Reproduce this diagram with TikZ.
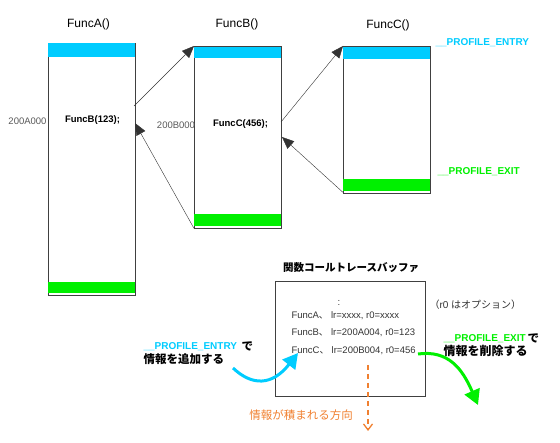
\documentclass[tikz,border=0pt]{standalone}
\usepackage{fontspec}
\usepackage{tikz}
\usetikzlibrary{arrows.meta}
\setmainfont{Liberation Sans}
\newfontfamily\jp{Noto Sans CJK JP}
\definecolor{entrycol}{RGB}{0,204,255}
\definecolor{exitcol}{RGB}{0,240,0}
\definecolor{dircol}{RGB}{240,128,48}

\tikzset{
  funcbox/.style={draw=black!75, anchor=north west, inner sep=0pt},
  call/.style={draw=black!80, -{Triangle[length=12pt,width=10pt]}},
  lbl/.style={font=\fontsize{9.5}{10}\selectfont, text=black!65},
  code/.style={font=\fontsize{9.5}{10}\selectfont\bfseries},
  title/.style={font=\fontsize{12}{12}\selectfont},
  buf/.style={font=\fontsize{9.5}{10}\selectfont, text=black!80, anchor=west},
  bigtip/.style={line width=3pt, -{Triangle[length=15pt,width=16pt]}},
  jpb/.style={font=\jp\fontsize{11.5}{12}\selectfont\bfseries, anchor=west}
}

\begin{document}
\begin{tikzpicture}[x=1pt,y=-1pt]
\useasboundingbox (0,0) rectangle (560,443);


\node[funcbox, minimum width=87pt, minimum height=252pt] (fa) at (48,43) {};
\node[funcbox, minimum width=87pt, minimum height=182pt] (fb) at (194,46) {};
\node[funcbox, minimum width=87pt, minimum height=147pt] (fc) at (343,46) {};

\fill[entrycol] ([shift={(0.4pt,-0.4pt)}]fa.north west) rectangle ([shift={(-0.4pt,-14pt)}]fa.north east);
\fill[entrycol] ([shift={(0.4pt,-1pt)}]fb.north west) rectangle ([shift={(-0.4pt,-12pt)}]fb.north east);
\fill[entrycol] ([shift={(0.4pt,-1pt)}]fc.north west) rectangle ([shift={(-0.4pt,-13pt)}]fc.north east);
\fill[exitcol] ([shift={(0.4pt,13pt)}]fa.south west) rectangle ([shift={(-0.4pt,2pt)}]fa.south east);
\fill[exitcol] ([shift={(0.4pt,14pt)}]fb.south west) rectangle ([shift={(-0.4pt,2pt)}]fb.south east);
\fill[exitcol] ([shift={(0.4pt,14pt)}]fc.south west) rectangle ([shift={(-0.4pt,2pt)}]fc.south east);


\node[title] (ta) at (88.5,24) {FuncA()};
\node[title] (tb) at (237,24) {FuncB()};
\node[title] (tc) at (388,25) {FuncC()};

\node[lbl] (adra) at (27.5,121) {200A000};
\node[code] (cb) at (92.5,120) {FuncB(123);};
\node[lbl] (adrb) at (176,125) {200B000};
\node[code] (cc) at (240.5,124) {FuncC(456);};

\node[font=\fontsize{10}{10}\selectfont\bfseries, text=entrycol, anchor=west] (pent) at (432,43) {\_\_PROFILE\_ENTRY};
\node[font=\fontsize{10}{10}\selectfont\bfseries, text=exitcol, anchor=west] (pext) at (434,172) {\_\_PROFILE\_EXIT};


% calls and returns
\coordinate (outa) at (134,106);
\coordinate (ina) at (135,123);
\coordinate (outb) at (281,122);
\coordinate (inb) at (282,137);
\draw[call] (outa) -- (fb.north west);
\draw[call] (fb.south west) -- (ina);
\draw[call] (outb) -- (fc.north west);
\draw[call] ([yshift=1pt]fc.south west) -- (inb);


% trace buffer
\node[draw=black!75, anchor=north west, minimum width=150pt, minimum height=115pt] (tbuf) at (275,281) {};
\node[font=\jp\fontsize{10.5}{11}\selectfont\bfseries] (tbt) at (351,268) {関数コールトレースバッファ};
\node[buf, anchor=center] (dots) at (339,303) {:};
\node[buf] (ra) at (288,316) {FuncA{\jp 、} lr=xxxx, r0=xxxx};
\node[buf] (rb) at (288,333) {FuncB{\jp 、} lr=200A004, r0=123};
\node[buf] (rc) at (288,351) {FuncC{\jp 、} lr=200B004, r0=456};
\node[buf, font=\fontsize{10}{10}\selectfont] (opt) at (426,305) {{\jp （}r0 {\jp はオプション）}};

\node[font=\fontsize{10}{10}\selectfont\bfseries, text=entrycol, anchor=west] (addt) at (140,347) {\_\_PROFILE\_ENTRY};
\node[jpb] (addd) at (238,346) {で};
\node[jpb] (adds) at (140,359) {情報を追加する};

\node[font=\fontsize{10}{10}\selectfont\bfseries, text=exitcol, anchor=west] (delt) at (440,339) {\_\_PROFILE\_EXIT};
\node[jpb] (deld) at (524,338) {で};
\node[jpb, font=\jp\fontsize{12}{12}\selectfont\bfseries] (dels) at (440,351) {情報を削除する};

\coordinate (bs) at (233,368);
\coordinate (be) at (298,353);
\coordinate (gs) at (418,354);
\coordinate (ge) at (478,405);
\draw[entrycol, bigtip] (bs) .. controls (252,386) and (272,386) .. (be);
\draw[exitcol, bigtip] (gs) .. controls (448,350) and (462,368) .. (ge);

\coordinate (ds) at (368,365);
\coordinate (de) at (368,431);
\draw[dircol, line width=1.3pt, dash pattern=on 5pt off 4pt, -{Straight Barb[length=6pt,width=9pt]}] (ds) -- (de);
\node[font=\jp\fontsize{11.5}{12}\selectfont, text=dircol] (dirt) at (301,415) {情報が積まれる方向};

\end{tikzpicture}
\end{document}
